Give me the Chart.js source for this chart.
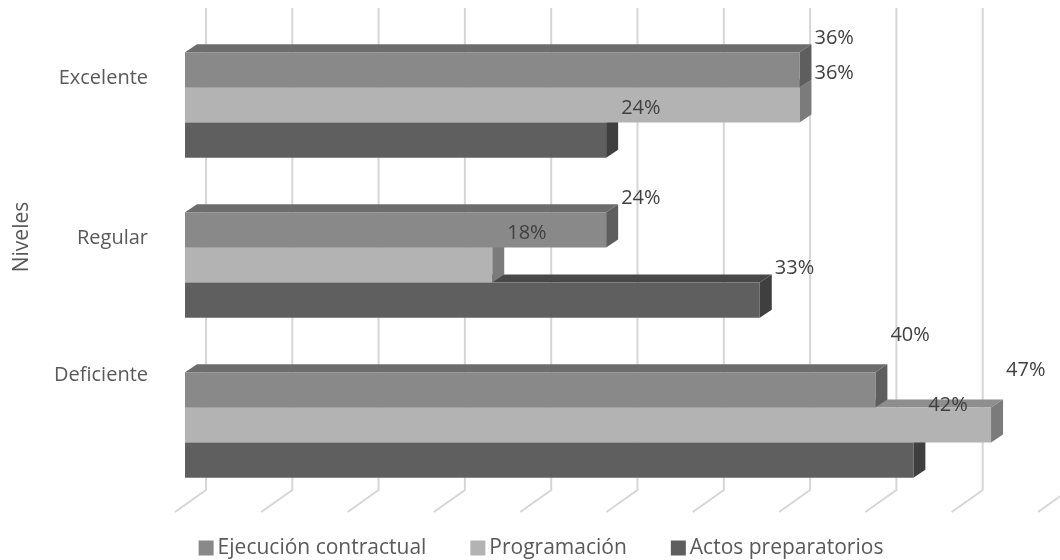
<!DOCTYPE html>
<html>
<head>
<meta charset="utf-8">
<script src="https://cdn.jsdelivr.net/npm/chart.js@4.4.1/dist/chart.umd.min.js"></script>
<style>
  html, body { margin: 0; padding: 0; background: #ffffff; }
  #wrap { width: 1060px; height: 560px; }
</style>
</head>
<body>
<div id="wrap"><canvas id="chart" width="1060" height="560"></canvas></div>
<script>
// data: 45 respuestas por serie, en porcentaje
const niveles = ['Excelente', 'Regular', 'Deficiente'];
const series = ['Ejecución contractual', 'Programación', 'Actos preparatorios'];
const ejecucion = [35.6, 24.4, 40.0];
const programacion = [35.6, 17.8, 46.7];
const actos = [24.4, 33.3, 42.2];
const xTicks = [0, 5, 10, 15, 20, 25, 30, 35, 40, 45, 50];

// estilos
const fontFamily = '"Open Sans", "DejaVu Sans", sans-serif';
const frontColor = ['#898989', '#b3b3b3', '#5f5f5f'];
const topColor = ['#6c6c6c', '#8e8e8e', '#484848'];
const sideColor = ['#5e5e5e', '#7b7b7b', '#3f3f3f'];
const depth = { dx: 12, dy: 8 };
const catLift = [27, 27, 50];
const valLift = [32, 32, 55];

const bar3d = {
  id: 'bar3d',
  beforeDatasetsDraw(chart) {
    // slanted 3D gridlines
    const ctx = chart.ctx;
    const xs = chart.scales.x;
    const area = chart.chartArea;
    ctx.save();
    ctx.strokeStyle = '#d6d6d6';
    ctx.lineWidth = 2;
    xTicks.forEach(function (v) {
      const px = xs.getPixelForValue(v);
      ctx.beginPath();
      ctx.moveTo(px + 21, area.top - 17);
      ctx.lineTo(px + 21, area.bottom - 15);
      ctx.lineTo(px - 10, area.bottom + 7);
      ctx.stroke();
    });
    ctx.restore();
  },
  beforeDatasetDraw(chart, args) {
    const ctx = chart.ctx;
    const i = args.index;
    ctx.save();
    args.meta.data.forEach(function (el) {
      const p = el.getProps(['x', 'y', 'base', 'height'], true);
      const top = p.y - p.height / 2;
      const bottom = p.y + p.height / 2;
      // top face
      ctx.fillStyle = topColor[i];
      ctx.beginPath();
      ctx.moveTo(p.base, top);
      ctx.lineTo(p.base + depth.dx, top - depth.dy);
      ctx.lineTo(p.x + depth.dx, top - depth.dy);
      ctx.lineTo(p.x, top);
      ctx.closePath();
      ctx.fill();
      // side face
      ctx.fillStyle = sideColor[i];
      ctx.beginPath();
      ctx.moveTo(p.x, top);
      ctx.lineTo(p.x + depth.dx, top - depth.dy);
      ctx.lineTo(p.x + depth.dx, bottom - depth.dy);
      ctx.lineTo(p.x, bottom);
      ctx.closePath();
      ctx.fill();
    });
    ctx.restore();
  },
  afterDatasetsDraw(chart) {
    const ctx = chart.ctx;
    const ys = chart.scales.y;
    ctx.save();
    // value labels
    ctx.font = '20px ' + fontFamily;
    ctx.fillStyle = '#404040';
    ctx.textAlign = 'left';
    ctx.textBaseline = 'middle';
    chart.data.datasets.forEach(function (ds, d) {
      chart.getDatasetMeta(d).data.forEach(function (el, k) {
        ctx.fillText(Math.round(ds.data[k]) + '%', el.x + 15, el.y - valLift[k]);
      });
    });
    // category labels
    ctx.fillStyle = '#595959';
    ctx.textAlign = 'right';
    niveles.forEach(function (n, k) {
      ctx.fillText(n, 148, ys.getPixelForValue(k) - catLift[k]);
    });
    // axis title
    ctx.save();
    ctx.font = '21px ' + fontFamily;
    ctx.translate(22, 237);
    ctx.rotate(-Math.PI / 2);
    ctx.textAlign = 'center';
    ctx.fillText('Niveles', 0, 0);
    ctx.restore();
    // legend
    ctx.font = '21px ' + fontFamily;
    const box = 15, gapText = 4, gapItem = 44;
    const widths = series.map(function (s) { return ctx.measureText(s).width; });
    let total = 0;
    widths.forEach(function (w, k) { total += box + gapText + w + (k < widths.length - 1 ? gapItem : 0); });
    let x = 541 - total / 2;
    const ly = 548;
    ctx.textAlign = 'left';
    series.forEach(function (s, k) {
      ctx.fillStyle = frontColor[k];
      ctx.fillRect(x, ly - box / 2, box, box);
      ctx.fillStyle = '#595959';
      ctx.fillText(s, x + box + gapText, ly);
      x += box + gapText + widths[k] + gapItem;
    });
    ctx.restore();
  }
};

new Chart(document.getElementById('chart'), {
  type: 'bar',
  data: {
    labels: niveles,
    datasets: [
      { label: series[0], data: ejecucion, backgroundColor: frontColor[0] },
      { label: series[1], data: programacion, backgroundColor: frontColor[1] },
      { label: series[2], data: actos, backgroundColor: frontColor[2] }
    ]
  },
  options: {
    indexAxis: 'y',
    responsive: false,
    animation: false,
    devicePixelRatio: 1,
    layout: { padding: { left: 185, right: 12, top: 25, bottom: 55 } },
    datasets: { bar: { categoryPercentage: 0.66, barPercentage: 1.0 } },
    plugins: {
      legend: { display: false },
      tooltip: { enabled: false }
    },
    scales: {
      x: { display: false, min: 0, max: 50 },
      y: { display: false }
    }
  },
  plugins: [bar3d]
});
</script>
</body>
</html>
